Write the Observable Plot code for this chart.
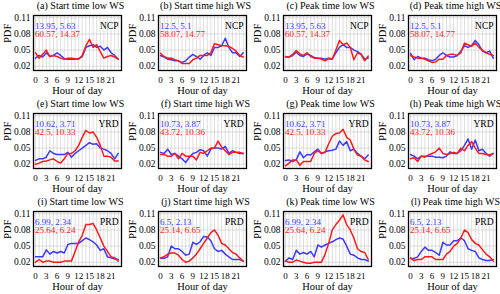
<!DOCTYPE html>
<html><head><meta charset="utf-8">
<script src="https://cdn.jsdelivr.net/npm/d3@7"></script>
<script src="https://cdn.jsdelivr.net/npm/@observablehq/plot@0.6"></script>
<style>
body{margin:0;background:#fff;}
#c{position:relative;width:500px;height:294px;overflow:hidden;background:#fff;}
#c svg{position:absolute;overflow:visible;}
#c svg text{font-family:"Liberation Serif","Times New Roman",serif;}
</style></head>
<body><div id="c"></div>
<script>
const hours = [0,1,2,3,4,5,6,7,8,9,10,11,12,13,14,15,16,17,18,19,20,21,22,23];
const xTicks = [0,3,6,9,12,15,18,21];
const yTicks = [0.02,0.05,0.08,0.11];
const titles = ["(a) Start time low WS","(b) Start time high WS","(c) Peak time low WS","(d) Peak time high WS",
"(e) Start time low WS","(f) Start time high WS","(g) Peak time low WS","(h) Peak time high WS",
"(i) Start time low WS","(j) Start time high WS","(k) Peak time low WS","(l) Peak time high WS"];
const regions = ["NCP","YRD","PRD"];
const blueNotes = ["13.95, 5.63","12.5, 5.1","13.95, 5.63","12.5, 5.1","10.62, 3.71","10.73, 3.87","10.62, 3.71","10.73, 3.87","6.99, 2.34","6.5, 2.13","6.99, 2.34","6.5, 2.13"];
const redNotes = ["60.57, 14.37","58.07, 14.77","60.57, 14.37","58.07, 14.77","42.5, 10.33","43.72, 10.36","42.5, 10.33","43.72, 10.36","25.64, 6.24","25.14, 6.65","25.64, 6.24","25.14, 6.65"];

const blueA = [0.035,0.040,0.037,0.045,0.038,0.040,0.045,0.040,0.034,0.033,0.033,0.033,0.034,0.038,0.055,0.058,0.060,0.055,0.057,0.050,0.055,0.045,0.040,0.033];
const redA  = [0.045,0.035,0.042,0.050,0.038,0.040,0.038,0.035,0.033,0.035,0.035,0.034,0.033,0.040,0.058,0.070,0.055,0.060,0.047,0.035,0.038,0.040,0.037,0.033];
const blueB = [0.040,0.037,0.033,0.032,0.030,0.030,0.027,0.030,0.037,0.042,0.038,0.033,0.040,0.045,0.040,0.055,0.055,0.058,0.072,0.055,0.045,0.045,0.038,0.045];
const redB  = [0.044,0.038,0.035,0.035,0.032,0.030,0.025,0.025,0.025,0.032,0.035,0.040,0.040,0.040,0.045,0.062,0.060,0.058,0.058,0.057,0.053,0.048,0.040,0.037];
const blueC = [0.037,0.037,0.040,0.046,0.040,0.038,0.043,0.040,0.036,0.035,0.035,0.033,0.035,0.034,0.045,0.055,0.060,0.055,0.055,0.050,0.047,0.043,0.033,0.035];
const redC  = [0.038,0.037,0.042,0.049,0.043,0.040,0.045,0.038,0.035,0.035,0.033,0.030,0.034,0.033,0.050,0.068,0.060,0.063,0.055,0.032,0.045,0.042,0.030,0.039];
const blueD = [0.044,0.032,0.038,0.035,0.035,0.032,0.030,0.033,0.040,0.045,0.040,0.037,0.037,0.040,0.048,0.058,0.055,0.058,0.068,0.060,0.048,0.045,0.048,0.035];
const redD  = [0.040,0.037,0.035,0.035,0.033,0.030,0.027,0.028,0.033,0.033,0.040,0.042,0.042,0.040,0.045,0.063,0.060,0.057,0.063,0.055,0.050,0.045,0.042,0.040];
const blueE = [0.027,0.030,0.030,0.033,0.045,0.040,0.038,0.038,0.038,0.042,0.033,0.040,0.045,0.050,0.055,0.060,0.057,0.058,0.050,0.048,0.045,0.040,0.030,0.040];
const redE  = [0.020,0.022,0.025,0.026,0.028,0.030,0.025,0.022,0.030,0.040,0.040,0.045,0.055,0.070,0.083,0.078,0.080,0.070,0.055,0.035,0.035,0.033,0.026,0.026];
const blueF = [0.042,0.040,0.048,0.038,0.040,0.035,0.030,0.023,0.033,0.040,0.042,0.047,0.045,0.035,0.048,0.050,0.050,0.048,0.053,0.040,0.045,0.042,0.040,0.040];
const redF  = [0.038,0.038,0.035,0.035,0.040,0.030,0.040,0.035,0.035,0.035,0.028,0.042,0.040,0.045,0.050,0.050,0.063,0.052,0.045,0.038,0.042,0.042,0.042,0.040];
const blueG = [0.027,0.028,0.025,0.028,0.043,0.032,0.038,0.037,0.043,0.048,0.040,0.043,0.045,0.046,0.048,0.063,0.055,0.062,0.045,0.048,0.040,0.035,0.030,0.037];
const redG  = [0.017,0.022,0.028,0.028,0.018,0.025,0.025,0.025,0.040,0.045,0.040,0.042,0.058,0.072,0.077,0.078,0.085,0.070,0.065,0.048,0.037,0.035,0.028,0.025];
const blueH = [0.038,0.035,0.030,0.035,0.035,0.035,0.035,0.033,0.033,0.032,0.035,0.043,0.040,0.040,0.045,0.055,0.067,0.048,0.065,0.045,0.048,0.040,0.035,0.040];
const redH  = [0.030,0.032,0.025,0.035,0.033,0.037,0.040,0.043,0.050,0.040,0.038,0.040,0.042,0.040,0.050,0.045,0.055,0.062,0.050,0.040,0.040,0.038,0.037,0.040];
const blueI = [0.030,0.030,0.030,0.043,0.035,0.040,0.037,0.040,0.037,0.053,0.055,0.055,0.055,0.060,0.065,0.062,0.058,0.052,0.042,0.045,0.030,0.028,0.026,0.025];
const redI  = [0.020,0.025,0.020,0.022,0.022,0.020,0.020,0.020,0.022,0.022,0.022,0.040,0.058,0.070,0.090,0.090,0.092,0.080,0.065,0.050,0.040,0.030,0.028,0.022];
const blueJ = [0.028,0.027,0.030,0.050,0.045,0.045,0.040,0.033,0.035,0.057,0.053,0.058,0.068,0.067,0.060,0.045,0.040,0.042,0.035,0.030,0.025,0.025,0.025,0.022];
const redJ  = [0.028,0.030,0.035,0.037,0.037,0.033,0.025,0.020,0.022,0.028,0.035,0.045,0.055,0.065,0.075,0.080,0.070,0.055,0.052,0.045,0.038,0.035,0.028,0.022];
const blueK = [0.022,0.028,0.025,0.042,0.035,0.038,0.035,0.040,0.030,0.052,0.048,0.052,0.055,0.058,0.062,0.065,0.063,0.050,0.035,0.033,0.028,0.025,0.025,0.022];
const redK  = [0.022,0.020,0.020,0.024,0.022,0.020,0.018,0.018,0.020,0.020,0.020,0.035,0.055,0.080,0.090,0.098,0.108,0.090,0.080,0.065,0.045,0.040,0.038,0.025];
const blueL = [0.027,0.027,0.030,0.040,0.048,0.042,0.042,0.038,0.033,0.057,0.052,0.052,0.060,0.060,0.065,0.060,0.045,0.042,0.040,0.028,0.025,0.023,0.023,0.025];
const redL  = [0.028,0.023,0.025,0.025,0.030,0.030,0.030,0.025,0.025,0.025,0.035,0.040,0.050,0.055,0.065,0.080,0.075,0.062,0.055,0.052,0.043,0.035,0.030,0.022];

const blues = [blueA,blueB,blueC,blueD,blueE,blueF,blueG,blueH,blueI,blueJ,blueK,blueL];
const reds  = [redA,redB,redC,redD,redE,redF,redG,redH,redI,redJ,redK,redL];

const BLUE = "#3b3bff", RED = "#ff1a1a";
const font = "'Liberation Serif', 'Times New Roman', serif";
const container = document.getElementById("c");
const rowTops = [0, 98, 196];

for (let i = 0; i < 12; i++) {
  const row = Math.floor(i / 4), col = i % 4;
  const bl = hours.map((h, k) => ({h, v: blues[i][k]}));
  const rd = hours.map((h, k) => ({h, v: reds[i][k]}));
  const p = Plot.plot({
    width: 125, height: 98,
    marginLeft: 33, marginRight: 4, marginTop: 15, marginBottom: 28,
    style: {fontFamily: font, fontSize: "9.5px", background: "transparent", color: "black", overflow: "visible"},
    x: {domain: [-0.55, 23.9]},
    y: {domain: [0.012, 0.1143]},
    marks: [
      Plot.gridX(hours, {stroke: "#c8c8c8", strokeOpacity: 1, strokeWidth: 0.6}),
      Plot.gridY(yTicks, {stroke: "#c8c8c8", strokeOpacity: 1, strokeWidth: 0.6}),
      Plot.axisX({ticks: xTicks, tickSize: 0, tickPadding: 6, label: null, fontSize: 9}),
      Plot.axisY({ticks: yTicks, tickSize: 0, tickPadding: 3, tickFormat: d3.format(".2f"), label: null, fontSize: 9.5}),
      Plot.line(bl, {x: "h", y: "v", stroke: BLUE, strokeWidth: 1.5}),
      Plot.line(rd, {x: "h", y: "v", stroke: RED, strokeWidth: 1.5}),
      Plot.frame({stroke: "black", strokeWidth: 1.3}),
      Plot.text([titles[i]], {frameAnchor: "top", dy: -10, fontSize: 10, lineAnchor: "middle", dx: 3}),
      Plot.text([blueNotes[i]], {frameAnchor: "top-left", dx: 1.5, dy: 10.5, fill: BLUE, fontSize: 9, lineAnchor: "middle", textAnchor: "start"}),
      Plot.text([redNotes[i]], {frameAnchor: "top-left", dx: 1.5, dy: 19, fill: RED, fontSize: 9, lineAnchor: "middle", textAnchor: "start"}),
      Plot.text([regions[row]], {frameAnchor: "top-right", dx: -3, dy: 10.5, fill: "black", fontSize: 9.5, lineAnchor: "middle", textAnchor: "end"}),
      Plot.text(["PDF"], {frameAnchor: "left", dx: -26, rotate: -90, fontSize: 10.5, lineAnchor: "middle"}),
      Plot.text(["Hour of day"], {frameAnchor: "bottom", dy: 20, fontSize: 10.5, lineAnchor: "middle"})
    ]
  });
  p.style.left = (col * 125) + "px";
  p.style.top = rowTops[row] + "px";
  container.appendChild(p);
}
</script></body></html>
